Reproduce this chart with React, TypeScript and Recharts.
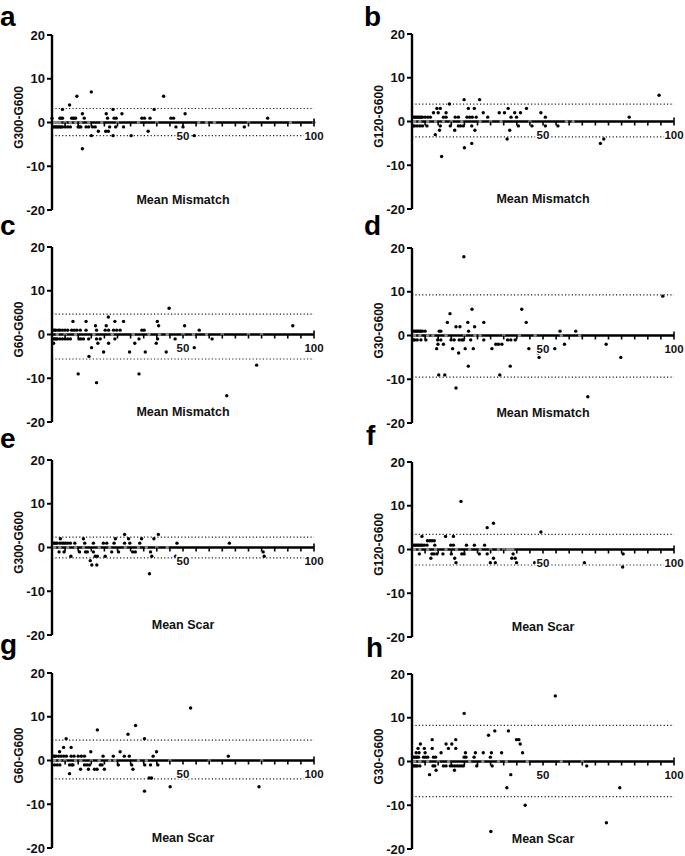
import React from 'react'
import { ScatterChart, Scatter, XAxis, YAxis, ReferenceLine } from 'recharts'

const FONT = '"Liberation Sans", Arial, sans-serif'
const XTICKS = [0, 5, 10, 15, 20, 25, 30, 35, 40, 45, 50, 55, 60, 65, 70, 75, 80, 85, 90, 95, 100]
const YTICKS = [-20, -10, 0, 10, 20]

// [mean, difference] pairs
const ptsA = [[0,1],[0.5,-1],[1,-1],[1.5,-1],[2,-1],[2.5,-1],[3,-1],[3.5,-1],[4,-1],[5,-1],[6,-1],[3,1],[3.5,1],[4,1],[4,3],[6.7,4],[7,-1],[7.5,1],[8,1],[8.5,1],[9,1],[9.5,6],[10,-1],[10.5,-1],[11,-1],[11.6,2],[11.6,-6],[12.3,1],[13,-1],[14,-1],[15,7],[15,-3],[15.5,-1],[16.5,-1],[17.7,-2],[20.7,2],[20.5,-2],[21.5,-2],[21.2,1],[22,-1],[23.3,3],[23.3,-3],[23.7,1],[24.5,1],[24.3,-1],[26.7,2],[27.3,-1],[30.2,-3],[34.3,1],[35.3,1],[36.7,-2],[37.4,1],[39,3],[42.6,6],[45.4,1],[46.4,1],[47.3,-1],[50,-1],[50.8,2],[54.3,-3],[73.4,-1],[82.3,1]]
const zeroA = [[1,0],[2,0],[3,0],[5,0],[7,0],[9,0],[11,0],[14,0],[19,0],[25,0],[33,0],[40,0],[56,0],[59,0],[62,0],[75,0],[91,0],[100,0]]
const limA = [3.2, -3.0]

const ptsB = [[0.5,1],[1,1],[1.5,1],[2,1],[2.5,1],[3,1],[3.5,1],[4,1],[5,1],[6,1],[7,1],[0.5,-1],[1,-1],[2,-1],[3,-1],[4,-1],[5.7,-1],[8.2,2],[8.9,-3],[9.5,3],[10.8,3],[10,2],[10.5,-2],[10.8,-1],[11.3,-8],[12,1],[13,1],[13,2],[14.3,4],[14.6,-1],[16.3,-2],[16.5,1],[17.7,1],[17.7,-1],[18.5,-1],[19.6,-1],[19.9,5],[20,-6],[21.5,3],[21,1],[22,1],[23,1],[24.5,1],[22.8,-1],[22.8,-5],[23.8,3],[24,-2],[25.8,5],[27.2,2],[28.9,1],[33.3,2],[35.3,2],[36.3,-4],[36.7,3],[37.3,-2],[37.8,1],[39.2,2],[39.9,1],[40.6,-1],[41.4,2],[43.7,3],[45.8,-1],[49.2,2],[50.9,1],[50.9,-1],[55.7,-1],[71.9,-5],[73.2,-4],[82.9,1],[94.3,6]]
const zeroB = [[1,0],[3,0],[6,0],[9,0],[12,0],[15,0],[19,0],[26,0],[30,0],[34,0],[45,0],[59,0],[61.5,0]]
const limB = [3.95, -3.5]

const ptsC = [[0.5,1],[1,1],[1.5,1],[2.5,1],[3,1],[4,1],[5,1],[6,1],[0.5,-1],[1,-1],[1.5,-1],[2,-1],[3,-1],[4,-1],[5,-1],[6,-1],[0.6,-2],[7,-1],[8,3],[7.5,1],[8.5,1],[9.5,1],[10.8,1],[10,-9],[10.3,-1],[11,-1],[12,-1],[13,3],[13,1],[14,-1],[14.1,-5],[15.1,-3],[16.6,2],[17,1],[17,-11],[17.5,-2],[17,-1],[18.4,-1],[19.7,-4],[20.7,2],[20.3,1],[21.6,1],[21.5,4],[21.6,-2],[24,3],[24,-1],[23.5,1],[24.7,1],[26,1],[27.3,3],[29.6,-4],[31.6,-2],[33.2,-9],[33.2,-1],[34.3,1],[35.2,1],[35.6,-4],[39.8,-2],[40.2,3],[40.7,2],[40.3,-1],[43.6,-4],[44.7,6],[47,-1],[50.6,2],[54.3,-3],[56.2,1],[61.1,-1],[66.7,-14],[78.1,-7],[91.9,2]]
const zeroC = [[2,0],[5,0],[9,0],[16,0],[23,0],[31,0],[37,0],[41,0],[44,0],[50,0],[54,0],[59,0],[65,0],[75,0],[80,0]]
const limC = [4.67, -5.6]

const ptsD = [[0.5,1],[1,1],[1.5,1],[2,1],[2.5,1],[3,1],[3.5,1],[4,1],[5,1],[0.5,-1],[1,-1],[2,-1],[3.4,-1],[5.3,-1],[9.4,-3],[10.4,1],[11,1],[9.9,-2],[10.2,-9],[9.8,-1],[11,-1],[12,-2],[12.5,-9],[13.5,3],[14.5,5],[14.9,-1],[16.1,-1],[15.5,-3],[16.8,-12],[16.8,2],[18.3,2],[17.8,-4],[18,-1],[19,-1],[19.6,-1],[19.8,18],[20.3,-3],[21.3,3],[21.6,1],[21.5,-7],[22.4,-1],[22.9,6],[23.4,-3],[23.9,2],[27.4,3],[27.4,-1],[30.5,-3],[32,-2],[33,-2],[34.3,-2],[33.5,-9],[36.5,-1],[37.7,-1],[37.5,-7],[39.4,-1],[41.9,6],[43.6,3],[44.6,-3],[48.2,-4],[48.5,-5],[54.5,-3],[56.5,1],[58.2,-2],[62.5,1],[67.1,-14],[74.1,-2],[79.7,-5],[95.7,9]]
const zeroD = [[1,0],[3,0],[6,0],[8,0],[13,0],[20,0],[24,0],[26,0],[35,0],[41,0],[47,0],[57,0],[64,0]]
const limD = [9.3, -9.5]

const ptsE = [[0.5,1],[1,1],[1.5,1],[2,1],[3,1],[2.7,-1],[3.2,2],[3.8,1],[4.5,1],[5.2,1],[6,1],[7,1],[4.6,-1],[7.2,-2],[8.7,1],[10.5,-1],[12,2],[12.5,1],[12.8,-1],[13.5,-1],[14.6,-3],[15.2,-4],[15.8,1],[15.8,-1],[16.5,-2],[17.3,-2],[17.1,-4],[19.6,1],[20.9,1],[20.3,-2],[22.8,-1],[23.7,1],[24.2,2],[25.4,-1],[27.7,3],[27.7,1],[29.2,2],[29.7,1],[30.8,-1],[31.8,-1],[33.5,1],[34.2,2],[37.2,-6],[37.6,-1],[38.1,-2],[38.9,2],[40.6,3],[47.2,-2],[47.7,1],[67.7,1],[80.6,-1],[81,-2]]
const zeroE = [[1,0],[3,0],[6,0],[9,0],[12,0],[18,0],[22,0],[28,0],[33,0],[36,0],[40,0],[44,0]]
const limE = [2.36, -2.36]

const ptsF = [[0.5,1],[1,1],[1.5,1],[2,1],[2.5,1],[3,1],[3.5,1],[4,1],[4.7,1],[5.7,1],[2.8,-1],[3.8,3],[5.9,2],[6.8,2],[7.6,2],[8.5,2],[7.2,-2],[7.6,-1],[8.4,-1],[9.5,-1],[8.7,1],[11.8,-1],[12.8,3],[14.8,1],[15.8,1],[15,-1],[15.8,3],[16.3,-2],[16.8,-3],[18.7,11],[19,-1],[19.9,-1],[20.8,1],[23.8,1],[25.7,-1],[27.7,1],[28.7,5],[28.7,-1],[29.9,-3],[31.1,6],[31.1,-2],[31.8,-3],[38.6,-1],[38.1,-2],[39.4,-2],[39.9,-3],[46.8,-3],[49.2,4],[65.8,-3],[80.6,-1],[80.4,-4]]
const zeroF = [[1,0],[3,0],[6,0],[9,0],[13,0],[17,0],[22,0],[26,0],[30,0],[33,0],[35,0],[36.5,0],[37.5,0],[38.5,0]]
const limF = [3.46, -3.54]

const ptsG = [[0.5,1],[1,1],[1.5,1],[2.5,1],[3.5,1],[4.5,1],[5.5,1],[1,-1],[2,-1],[3,-1],[2.9,2],[4.4,3],[5.4,5],[6.7,-3],[7.3,3],[7.3,1],[8.4,1],[6.7,-1],[7.5,-1],[8,-1],[10,1],[11.2,1],[12.4,1],[10.9,-2],[12.4,-1],[13.3,-1],[14.3,-1],[13.9,-2],[14.8,2],[16.2,-2],[17.2,-2],[17.3,7],[18.4,-1],[19.1,-1],[19.5,1],[20,-2],[23.4,1],[25.3,-1],[26,2],[27.6,1],[29,6],[29.5,1],[30.4,-1],[30.9,-2],[31.9,8],[35.3,5],[35.3,-7],[35.4,-1],[37.1,-4],[38,-4],[37.6,-1],[38.6,1],[39.9,2],[40.4,-1],[45.1,-6],[52.9,12],[67.3,1],[79,-6]]
const zeroG = [[1,0],[3,0],[5,0],[9,0],[11,0],[15,0],[18,0],[22,0],[24,0],[33,0],[36,0],[45,0],[60,0],[80,0]]
const limG = [4.66, -4.2]

const ptsH = [[0.5,1],[1,1],[1.5,1],[2,1],[2.5,1],[0.5,-1],[1,-1],[1.5,-1],[2,-1],[3,-1],[1.6,2],[2.3,3],[3.2,4],[2.7,2],[4.7,3],[4.4,1],[5.2,1],[6,1],[5,2],[6.7,-3],[7.7,5],[7.7,3],[8.2,1],[9,1],[8,-1],[9.2,-2],[8.7,-1],[11.1,2],[12,-1],[13,-1],[13,4],[13.9,3],[15.2,4],[16.2,-2],[16.7,5],[16.7,3],[14.6,-1],[15.5,-1],[16.3,-1],[17.2,-1],[18,-1],[18.8,-1],[19.6,-1],[19.9,11],[19.9,1],[20.6,1],[20.4,2],[23.7,1],[24.2,2],[24.7,-1],[27.2,2],[29.2,6],[29.9,1],[30.3,2],[30.6,-1],[30.1,-16],[31.6,7],[34.2,2],[36.2,-6],[36.8,7],[37.7,-3],[39.9,5],[40.8,5],[41.3,4],[42.2,2],[43.2,-10],[54.7,15],[66.7,-1],[74.2,-14],[79.3,-6]]
const zeroH = [[1,0],[3,0],[6,0],[10,0],[14,0],[22,0],[27,0],[33,0],[36,0],[44,0],[57,0],[65,0]]
const limH = [8.28, -8.05]

const MT = 20 // top margin above the +20 tick
const PH = 175 // plot height
const PW = 262 // plot width (0..100)
const XH = 10

const panels = [
  { id: 'a', ylab: 'G300-G600', xlab: 'Mean Mismatch', pts: ptsA, zero: zeroA, lim: limA, left: 0, top: 35, w: 340, axisX: 52, lx: 0, ly: 25.5 },
  { id: 'b', ylab: 'G120-G600', xlab: 'Mean Mismatch', pts: ptsB, zero: zeroB, lim: limB, left: 340, top: 34, w: 345, axisX: 72, lx: 364, ly: 25.5 },
  { id: 'c', ylab: 'G60-G600', xlab: 'Mean Mismatch', pts: ptsC, zero: zeroC, lim: limC, left: 0, top: 247, w: 340, axisX: 52, lx: 0, ly: 235 },
  { id: 'd', ylab: 'G30-G600', xlab: 'Mean Mismatch', pts: ptsD, zero: zeroD, lim: limD, left: 340, top: 248, w: 345, axisX: 72, lx: 364, ly: 235 },
  { id: 'e', ylab: 'G300-G600', xlab: 'Mean Scar', pts: ptsE, zero: zeroE, lim: limE, left: 0, top: 460, w: 340, axisX: 52, lx: 0, ly: 448 },
  { id: 'f', ylab: 'G120-G600', xlab: 'Mean Scar', pts: ptsF, zero: zeroF, lim: limF, left: 340, top: 462, w: 345, axisX: 72, lx: 366, ly: 445 },
  { id: 'g', ylab: 'G60-G600', xlab: 'Mean Scar', pts: ptsG, zero: zeroG, lim: limG, left: 0, top: 673, w: 340, axisX: 52, lx: 0, ly: 654 },
  { id: 'h', ylab: 'G30-G600', xlab: 'Mean Scar', pts: ptsH, zero: zeroH, lim: limH, left: 340, top: 674, w: 345, axisX: 72, lx: 366, ly: 657 },
]

const zeroY = MT + PH / 2

function renderXTick(props: any) {
  const { x, payload } = props
  const v = payload.value
  if (v === 0) return <g />
  const showLabel = v === 50 || v === 100
  return (
    <g>
      <line x1={x} x2={x} y1={v === 100 ? zeroY - 4 : zeroY} y2={zeroY + 4} stroke="#000" strokeWidth={1.6} />
      {showLabel && (
        <text x={x} y={zeroY + 13} textAnchor="middle" dominantBaseline="central" fontSize={11.5} fontWeight={700} fontFamily={FONT} fill="#111" stroke="#fff" strokeWidth={3} paintOrder="stroke">
          {v}
        </text>
      )}
    </g>
  )
}

const dot = (props: any) => <circle cx={props.cx} cy={props.cy} r={1.7} fill={props.fill} />

function Panel({ p }: { p: any }) {
  const data = p.pts.map(([x, y]: number[]) => ({ x, y }))
  const zeros = p.zero.map(([x, y]: number[]) => ({ x, y }))
  return (
    <div style={{ position: 'absolute', left: p.left, top: p.top - MT }}>
      <ScatterChart width={p.w} height={MT + PH + XH} margin={{ top: MT, right: p.w - p.axisX - PW, bottom: 0, left: 0 }}>
        <XAxis
          type="number"
          dataKey="x"
          domain={[0, 100]}
          ticks={XTICKS}
          interval={0}
          axisLine={false}
          tickLine={false}
          height={XH}
          tick={renderXTick}
          label={{
            value: p.xlab,
            content: (lp: any) => {
              const vb = lp.viewBox
              return (
                <text x={vb.x + vb.width / 2} y={vb.y - 6} textAnchor="middle" fontSize={12.5} fontWeight={700} fontFamily={FONT} fill="#111">
                  {p.xlab}
                </text>
              )
            },
          }}
        />
        <YAxis
          type="number"
          dataKey="y"
          domain={[-20, 20]}
          ticks={YTICKS}
          width={p.axisX}
          axisLine={{ stroke: '#000', strokeWidth: 2.4 }}
          tickLine={{ stroke: '#000', strokeWidth: 2 }}
          tickSize={5}
          tickMargin={2}
          tick={{ fill: '#111', fontSize: 13, fontWeight: 700, fontFamily: FONT }}
          label={{
            value: p.ylab,
            content: (lp: any) => {
              const vb = lp.viewBox
              const cx = vb.x + vb.width - 33
              const cy = vb.y + vb.height / 2 - 5
              return (
                <text x={cx} y={cy} transform={`rotate(-90, ${cx}, ${cy})`} textAnchor="middle" dominantBaseline="central" fontSize={12} fontWeight={700} fontFamily={FONT} fill="#111">
                  {p.ylab}
                </text>
              )
            },
          }}
        />
        <ReferenceLine y={p.lim[0]} stroke="#222" strokeWidth={1.2} strokeDasharray="1.2 2.2" />
        <ReferenceLine y={p.lim[1]} stroke="#222" strokeWidth={1.2} strokeDasharray="1.2 2.2" />
        <ReferenceLine y={0} stroke="#000" strokeWidth={2.4} />
        <Scatter data={data} fill="#000" shape={dot} isAnimationActive={false} />
        <Scatter data={zeros} fill="#8c8c8c" shape={dot} isAnimationActive={false} />
      </ScatterChart>
    </div>
  )
}

export default function App() {
  return (
    <div style={{ position: 'absolute', left: 0, top: 0, width: 685, height: 856, overflow: 'hidden', background: '#fff' }}>
      {panels.map((p) => (
        <Panel key={p.id} p={p} />
      ))}
      <svg width={685} height={856} style={{ position: 'absolute', left: 0, top: 0, pointerEvents: 'none' }}>
        {panels.map((p) => (
          <text key={p.id} x={p.lx} y={p.ly} fontSize={28} fontWeight={700} fontFamily={FONT} fill="#000">
            {p.id}
          </text>
        ))}
      </svg>
    </div>
  )
}
